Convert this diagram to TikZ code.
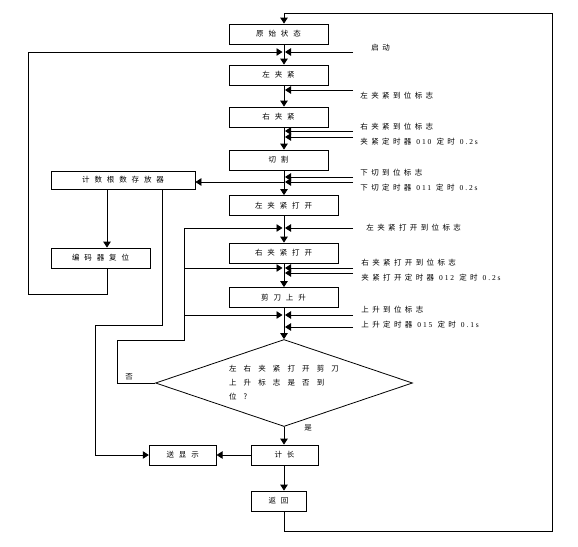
\documentclass[tikz,border=0pt]{standalone}
\usepackage{fontspec}
\setmainfont{Liberation Serif}[LetterSpace=25]
\newfontfamily\cjklbl[LetterSpace=45]{Noto Sans CJK SC}
\newfontfamily\cjkbox[LetterSpace=65]{Noto Sans CJK SC}
\newfontfamily\cjkdec[LetterSpace=95]{Noto Sans CJK SC}
\usetikzlibrary{positioning}
\usetikzlibrary{shapes.geometric}
\usetikzlibrary{arrows.meta}
\tikzstyle{B} = [rectangle,draw=black,minimum height=20pt,inner sep=0pt,font=\cjkbox\fontsize{7.5}{8}\selectfont]
\tikzstyle{D} = [diamond,draw=black,aspect=2.95,minimum width=257pt,minimum height=87pt,inner sep=0pt,align=left,font=\cjkdec\fontsize{7.5}{14}\selectfont]
\tikzstyle{L} = [anchor=west,inner sep=0pt,font=\cjklbl\fontsize{7.5}{8}\selectfont]
\tikzset{>={Triangle[length=6pt,width=7.5pt]}}

\begin{document}
\begin{tikzpicture}[x=1pt,y=-1pt,line width=0.8pt]
  \useasboundingbox (0,0) rectangle (578,546);
  \coordinate (ax) at (284,0);

  \node [B,minimum width=99pt] (n1) at (278.5,34) {原始状态};
  \node [B,minimum width=99pt] (n2) at (278.5,75) {左夹紧};
  \node [B,minimum width=99pt] (n3) at (278.5,117) {右夹紧};
  \node [B,minimum width=99pt] (n4) at (278.5,160) {切割};
  \node [B,minimum width=109pt] (n5) at (283.5,205.5) {左夹紧打开};
  \node [B,minimum width=109pt] (n6) at (283.5,253) {右夹紧打开};
  \node [B,minimum width=109pt] (n7) at (283.5,297.5) {剪刀上升};
  \node [D] (n8) at (284,383) {左右夹紧打开剪刀\\上升标志是否到\\位?};
  \node [B,minimum width=67pt] (n9) at (284.5,455) {计长};
  \node [B,minimum width=55pt] (n10) at (278.5,501) {返回};
  \node [B,minimum width=67pt,left=34pt of n9] (n11) {送显示};
  \node [B,minimum width=144pt,minimum height=18pt] (n12) at (123,180) {计数根数存放器};
  \node [B,minimum width=99pt] (n13) at (100.5,258) {编码器复位};

  \node [L] (t1) at (371,48) {启动};
  \node [L] (t2) at (360,96) {左夹紧到位标志};
  \node [L] (t3) at (360,127) {右夹紧到位标志};
  \node [L] (t4) at (360,142) {夹紧定时器 {\rmfamily 010} 定时 {\rmfamily 0.2s}};
  \node [L] (t5) at (360,173) {下切到位标志};
  \node [L] (t6) at (360,188) {下切定时器 {\rmfamily 011} 定时 {\rmfamily 0.2s}};
  \node [L] (t7) at (366,228) {左夹紧打开到位标志};
  \node [L] (t8) at (361,263) {右夹紧打开到位标志};
  \node [L] (t9) at (361,278) {夹紧打开定时器 {\rmfamily 012} 定时 {\rmfamily 0.2s}};
  \node [L] (t10) at (361,310) {上升到位标志};
  \node [L] (t11) at (361,325) {上升定时器 {\rmfamily 015} 定时 {\rmfamily 0.1s}};
  \node [L,anchor=center] (t12) at (129,377) {否};
  \node [L,anchor=center] (t13) at (308,428) {是};

  \coordinate (r1) at (353,52);
  \coordinate (r2) at (353,90);
  \coordinate (r3) at (353,131);
  \coordinate (r4) at (353,137);
  \coordinate (r5) at (353,177);
  \coordinate (r6) at (353,182);
  \coordinate (r7) at (353,228);
  \coordinate (r8) at (353,268);
  \coordinate (r9) at (353,273);
  \coordinate (r10) at (353,315);
  \coordinate (r11) at (353,327);
  \coordinate (c1) at (552,13);
  \coordinate (c2) at (552,531);
  \coordinate (c3) at (28,294);
  \coordinate (c4) at (107,0);
  \coordinate (c5) at (162,0);
  \coordinate (c6) at (95,325);
  \coordinate (c7) at (117,340);
  \coordinate (c8) at (184,228);
  \coordinate (c9) at (184,268);
  \coordinate (c10) at (184,315);

  \draw [->] (n1.south -| ax) -- (n2.north -| ax);
  \draw [->] (n2.south -| ax) -- (n3.north -| ax);
  \draw [->] (n3.south -| ax) -- (n4.north -| ax);
  \draw [->] (n4.south -| ax) -- (n5.north -| ax);
  \draw [->] (n5.south -| ax) -- (n6.north -| ax);
  \draw [->] (n6.south -| ax) -- (n7.north -| ax);
  \draw [->] (n7.south -| ax) -- (n8.north);
  \draw [->] (n8.south) -- (n9.north -| ax);
  \draw [->] (n9.south -| ax) -- (n10.north -| ax);
  \draw [->] (n9.west) -- (n11.east);
  \draw [->] (n10.south -| ax) |- (c2) -- (c1) -| (n1.north -| ax);

  \draw [->,shorten >=1pt] (r1) -- (r1 -| ax);
  \draw [->,shorten >=1pt] (r2) -- (r2 -| ax);
  \draw [->,shorten >=1pt] (r3) -- (r3 -| ax);
  \draw [->,shorten >=1pt] (r4) -- (r4 -| ax);
  \draw [->,shorten >=1pt] (r5) -- (r5 -| ax);
  \draw [->,shorten >=1pt] (r6) -- (r6 -| ax);
  \draw [->,shorten >=1pt] (r7) -- (r7 -| ax);
  \draw [->,shorten >=1pt] (r8) -- (r8 -| ax);
  \draw [->,shorten >=1pt] (r9) -- (r9 -| ax);
  \draw [->,shorten >=1pt] (r10) -- (r10 -| ax);
  \draw [->,shorten >=1pt] (r11) -- (r11 -| ax);
  \draw [->] (r6 -| ax) -- (n12.east |- r6);

  \draw [->] (n12.south -| c4) -- (n13.north -| c4);
  \draw [->,shorten >=1.5pt] (n13.south -| c4) |- (c3) |- (r1 -| ax);
  \draw [->] (n12.south -| c5) |- (c6) |- (n11.west);

  \draw [->,shorten >=1.5pt] (n8.west) -| (c7) -| (c8) -- (c8 -| ax);
  \draw [->,shorten >=1.5pt] (c9) -- (c9 -| ax);
  \draw [->,shorten >=1.5pt] (c10) -- (c10 -| ax);
\end{tikzpicture}
\end{document}
